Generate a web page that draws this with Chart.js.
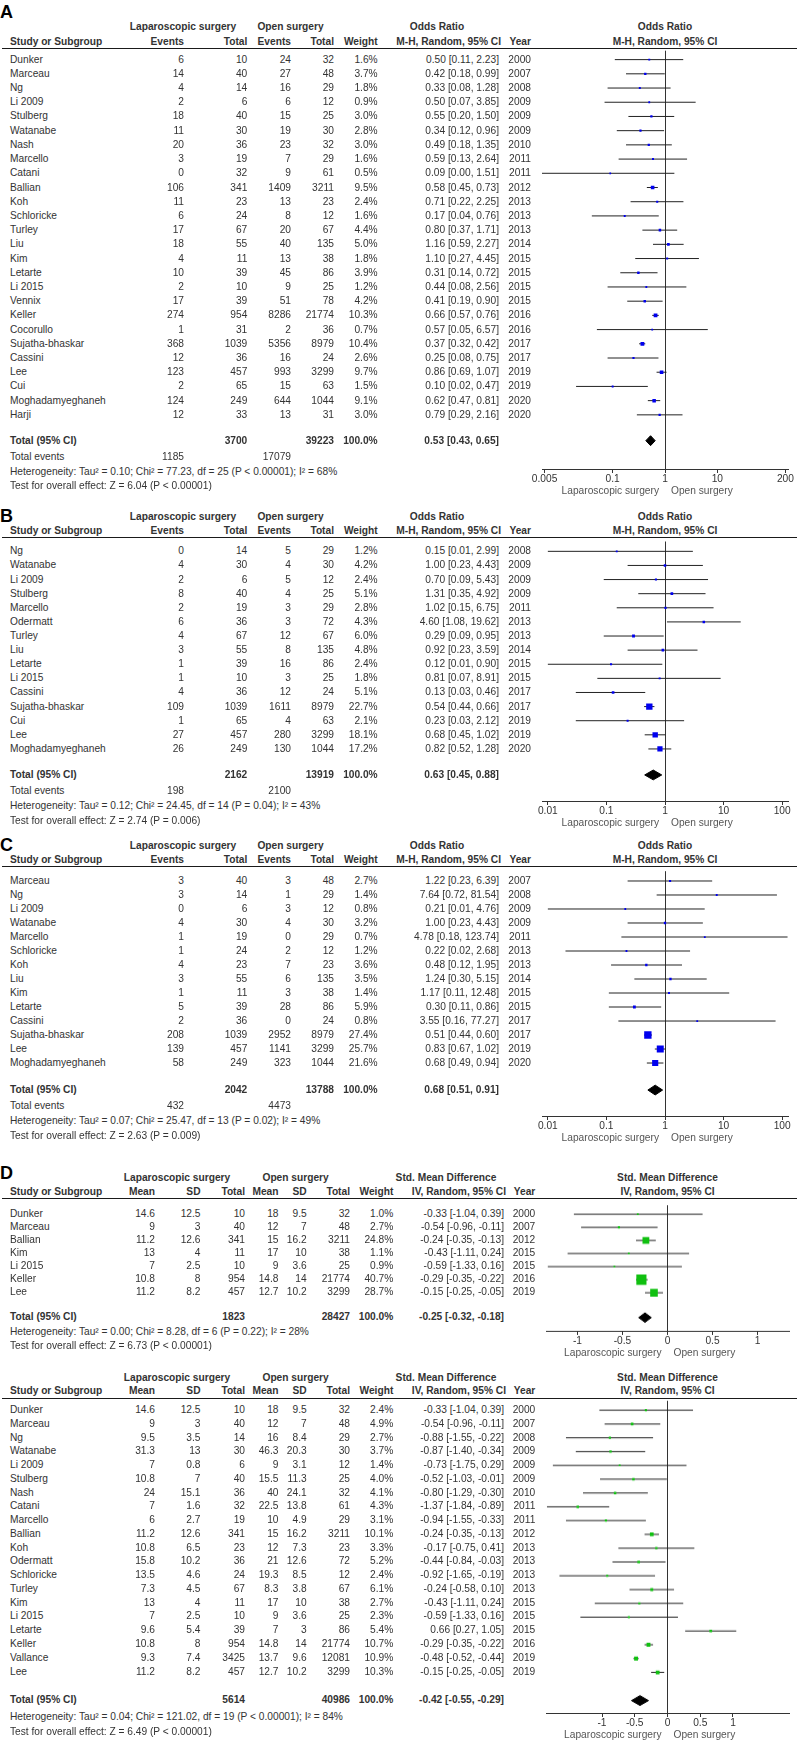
<!DOCTYPE html>
<html>
<head>
<meta charset="utf-8">
<script src="https://cdn.jsdelivr.net/npm/chart.js@4.4.0/dist/chart.umd.min.js"></script>
<style>
  body { margin: 0; background: #fff; }
  #fig { position: relative; width: 800px; height: 1740px; overflow: hidden;
         font-family: "Liberation Sans", Arial, Helvetica, sans-serif; font-size: 10.2px; color: #333; }
  .t { position: absolute; white-space: nowrap; line-height: 12px; }
  .b { font-weight: bold; }
  .r { transform: translateX(-100%); }
  .c { transform: translateX(-50%); }
  .letter { position: absolute; font-weight: bold; font-size: 18px; line-height: 18px; color: #000; }
  .sep { position: absolute; height: 1px; background: #1a1a1a; }
  canvas { position: absolute; }
</style>
</head>
<body>
<div id="fig"></div>
<script>
const FONT = '"Liberation Sans", Arial, Helvetica, sans-serif';

// ---- A: odds ratio, all studies ----
const aStudy = ['Dunker', 'Marceau', 'Ng', 'Li 2009', 'Stulberg', 'Watanabe', 'Nash', 'Marcello', 'Catani', 'Ballian', 'Koh', 'Schloricke', 'Turley', 'Liu', 'Kim', 'Letarte', 'Li 2015', 'Vennix', 'Keller', 'Cocorullo', 'Sujatha-bhaskar', 'Cassini', 'Lee', 'Cui', 'Moghadamyeghaneh', 'Harji'];
const aLapEv = [6, 14, 4, 2, 18, 11, 20, 3, 0, 106, 11, 6, 17, 18, 4, 10, 2, 17, 274, 1, 368, 12, 123, 2, 124, 12];
const aLapN = [10, 40, 14, 6, 40, 30, 36, 19, 32, 341, 23, 24, 67, 55, 11, 39, 10, 39, 954, 31, 1039, 36, 457, 65, 249, 33];
const aOpenEv = [24, 27, 16, 6, 15, 19, 23, 7, 9, 1409, 13, 8, 20, 40, 13, 45, 9, 51, 8286, 2, 5356, 16, 993, 15, 644, 13];
const aOpenN = [32, 48, 29, 12, 25, 30, 32, 29, 61, 3211, 23, 12, 67, 135, 38, 86, 25, 78, 21774, 36, 8979, 24, 3299, 63, 1044, 31];
const aWeight = [1.6, 3.7, 1.8, 0.9, 3.0, 2.8, 3.0, 1.6, 0.5, 9.5, 2.4, 1.6, 4.4, 5.0, 1.8, 3.9, 1.2, 4.2, 10.3, 0.7, 10.4, 2.6, 9.7, 1.5, 9.1, 3.0];
const aOR = [0.50, 0.42, 0.33, 0.50, 0.55, 0.34, 0.49, 0.59, 0.09, 0.58, 0.71, 0.17, 0.80, 1.16, 1.10, 0.31, 0.44, 0.41, 0.66, 0.57, 0.37, 0.25, 0.86, 0.10, 0.62, 0.79];
const aLo = [0.11, 0.18, 0.08, 0.07, 0.20, 0.12, 0.18, 0.13, 0.00, 0.45, 0.22, 0.04, 0.37, 0.59, 0.27, 0.14, 0.08, 0.19, 0.57, 0.05, 0.32, 0.08, 0.69, 0.02, 0.47, 0.29];
const aHi = [2.23, 0.99, 1.28, 3.85, 1.50, 0.96, 1.35, 2.64, 1.51, 0.73, 2.25, 0.76, 1.71, 2.27, 4.45, 0.72, 2.56, 0.90, 0.76, 6.57, 0.42, 0.75, 1.07, 0.47, 0.81, 2.16];
const aYear = [2000, 2007, 2008, 2009, 2009, 2009, 2010, 2011, 2011, 2012, 2013, 2013, 2013, 2014, 2015, 2015, 2015, 2015, 2016, 2016, 2017, 2017, 2019, 2019, 2020, 2020];
const aTotalN = [3700, 39223];
const aTotalEv = [1185, 17079];
const aPooled = [0.53, 0.43, 0.65];
const aHet = 'Heterogeneity: Tau² = 0.10; Chi² = 77.23, df = 25 (P < 0.00001); I² = 68%';
const aTest = 'Test for overall effect: Z = 6.04 (P < 0.00001)';
const aTicks = [0.005, 0.1, 1, 10, 200];
const aTickLabels = ['0.005', '0.1', '1', '10', '200'];

// ---- B ----
const bStudy = ['Ng', 'Watanabe', 'Li 2009', 'Stulberg', 'Marcello', 'Odermatt', 'Turley', 'Liu', 'Letarte', 'Li 2015', 'Cassini', 'Sujatha-bhaskar', 'Cui', 'Lee', 'Moghadamyeghaneh'];
const bLapEv = [0, 4, 2, 8, 2, 6, 4, 3, 1, 1, 4, 109, 1, 27, 26];
const bLapN = [14, 30, 6, 40, 19, 36, 67, 55, 39, 10, 36, 1039, 65, 457, 249];
const bOpenEv = [5, 4, 5, 4, 3, 3, 12, 8, 16, 3, 12, 1611, 4, 280, 130];
const bOpenN = [29, 30, 12, 25, 29, 72, 67, 135, 86, 25, 24, 8979, 63, 3299, 1044];
const bWeight = [1.2, 4.2, 2.4, 5.1, 2.8, 4.3, 6.0, 4.8, 2.4, 1.8, 5.1, 22.7, 2.1, 18.1, 17.2];
const bOR = [0.15, 1.00, 0.70, 1.31, 1.02, 4.60, 0.29, 0.92, 0.12, 0.81, 0.13, 0.54, 0.23, 0.68, 0.82];
const bLo = [0.01, 0.23, 0.09, 0.35, 0.15, 1.08, 0.09, 0.23, 0.01, 0.07, 0.03, 0.44, 0.03, 0.45, 0.52];
const bHi = [2.99, 4.43, 5.43, 4.92, 6.75, 19.62, 0.95, 3.59, 0.90, 8.91, 0.46, 0.66, 2.12, 1.02, 1.28];
const bYear = [2008, 2009, 2009, 2009, 2011, 2013, 2013, 2014, 2015, 2015, 2017, 2017, 2019, 2019, 2020];
const bTotalN = [2162, 13919];
const bTotalEv = [198, 2100];
const bPooled = [0.63, 0.45, 0.88];
const bHet = 'Heterogeneity: Tau² = 0.12; Chi² = 24.45, df = 14 (P = 0.04); I² = 43%';
const bTest = 'Test for overall effect: Z = 2.74 (P = 0.006)';

// ---- C ----
const cStudy = ['Marceau', 'Ng', 'Li 2009', 'Watanabe', 'Marcello', 'Schloricke', 'Koh', 'Liu', 'Kim', 'Letarte', 'Cassini', 'Sujatha-bhaskar', 'Lee', 'Moghadamyeghaneh'];
const cLapEv = [3, 3, 0, 4, 1, 1, 4, 3, 1, 5, 2, 208, 139, 58];
const cLapN = [40, 14, 6, 30, 19, 24, 23, 55, 11, 39, 36, 1039, 457, 249];
const cOpenEv = [3, 1, 3, 4, 0, 2, 7, 6, 3, 28, 0, 2952, 1141, 323];
const cOpenN = [48, 29, 12, 30, 29, 12, 23, 135, 38, 86, 24, 8979, 3299, 1044];
const cWeight = [2.7, 1.4, 0.8, 3.2, 0.7, 1.2, 3.6, 3.5, 1.4, 5.9, 0.8, 27.4, 25.7, 21.6];
const cOR = [1.22, 7.64, 0.21, 1.00, 4.78, 0.22, 0.48, 1.24, 1.17, 0.30, 3.55, 0.51, 0.83, 0.68];
const cLo = [0.23, 0.72, 0.01, 0.23, 0.18, 0.02, 0.12, 0.30, 0.11, 0.11, 0.16, 0.44, 0.67, 0.49];
const cHi = [6.39, 81.54, 4.76, 4.43, 123.74, 2.68, 1.95, 5.15, 12.48, 0.86, 77.27, 0.60, 1.02, 0.94];
const cYear = [2007, 2008, 2009, 2009, 2011, 2013, 2013, 2014, 2015, 2015, 2017, 2017, 2019, 2020];
const cTotalN = [2042, 13788];
const cTotalEv = [432, 4473];
const cPooled = [0.68, 0.51, 0.91];
const cHet = 'Heterogeneity: Tau² = 0.07; Chi² = 25.47, df = 13 (P = 0.02); I² = 49%';
const cTest = 'Test for overall effect: Z = 2.63 (P = 0.009)';
const bcTicks = [0.01, 0.1, 1, 10, 100];
const bcTickLabels = ['0.01', '0.1', '1', '10', '100'];

// ---- D: std. mean difference ----
const dStudy = ['Dunker', 'Marceau', 'Ballian', 'Kim', 'Li 2015', 'Keller', 'Lee'];
const dLapMean = [14.6, 9, 11.2, 13, 7, 10.8, 11.2];
const dLapSD = [12.5, 3, 12.6, 4, 2.5, 8, 8.2];
const dLapN = [10, 40, 341, 11, 10, 954, 457];
const dOpenMean = [18, 12, 15, 17, 9, 14.8, 12.7];
const dOpenSD = [9.5, 7, 16.2, 10, 3.6, 14, 10.2];
const dOpenN = [32, 48, 3211, 38, 25, 21774, 3299];
const dWeight = [1.0, 2.7, 24.8, 1.1, 0.9, 40.7, 28.7];
const dSMD = [-0.33, -0.54, -0.24, -0.43, -0.59, -0.29, -0.15];
const dLo = [-1.04, -0.96, -0.35, -1.11, -1.33, -0.35, -0.25];
const dHi = [0.39, -0.11, -0.13, 0.24, 0.16, -0.22, -0.05];
const dYear = [2000, 2007, 2012, 2015, 2015, 2016, 2019];
const dTotalN = [1823, 28427];
const dPooled = [-0.25, -0.32, -0.18];
const dHet = 'Heterogeneity: Tau² = 0.00; Chi² = 8.28, df = 6 (P = 0.22); I² = 28%';
const dTest = 'Test for overall effect: Z = 6.73 (P < 0.00001)';

// ---- second std. mean difference plot ----
const eStudy = ['Dunker', 'Marceau', 'Ng', 'Watanabe', 'Li 2009', 'Stulberg', 'Nash', 'Catani', 'Marcello', 'Ballian', 'Koh', 'Odermatt', 'Schloricke', 'Turley', 'Kim', 'Li 2015', 'Letarte', 'Keller', 'Vallance', 'Lee'];
const eLapMean = [14.6, 9, 9.5, 31.3, 7, 10.8, 24, 7, 6, 11.2, 10.8, 15.8, 13.5, 7.3, 13, 7, 9.6, 10.8, 9.3, 11.2];
const eLapSD = [12.5, 3, 3.5, 13, 0.8, 7, 15.1, 1.6, 2.7, 12.6, 6.5, 10.2, 4.6, 4.5, 4, 2.5, 5.4, 8, 7.4, 8.2];
const eLapN = [10, 40, 14, 30, 6, 40, 36, 32, 19, 341, 23, 36, 24, 67, 11, 10, 39, 954, 3425, 457];
const eOpenMean = [18, 12, 16, 46.3, 9, 15.5, 40, 22.5, 10, 15, 12, 21, 19.3, 8.3, 17, 9, 7, 14.8, 13.7, 12.7];
const eOpenSD = [9.5, 7, 8.4, 20.3, 3.1, 11.3, 24.1, 13.8, 4.9, 16.2, 7.3, 12.6, 8.5, 3.8, 10, 3.6, 3, 14, 9.6, 10.2];
const eOpenN = [32, 48, 29, 30, 12, 25, 32, 61, 29, 3211, 23, 72, 12, 67, 38, 25, 86, 21774, 12081, 3299];
const eWeight = [2.4, 4.9, 2.7, 3.7, 1.4, 4.0, 4.1, 4.3, 3.1, 10.1, 3.3, 5.2, 2.4, 6.1, 2.7, 2.3, 5.4, 10.7, 10.9, 10.3];
const eSMD = [-0.33, -0.54, -0.88, -0.87, -0.73, -0.52, -0.80, -1.37, -0.94, -0.24, -0.17, -0.44, -0.92, -0.24, -0.43, -0.59, 0.66, -0.29, -0.48, -0.15];
const eLo = [-1.04, -0.96, -1.55, -1.40, -1.75, -1.03, -1.29, -1.84, -1.55, -0.35, -0.75, -0.84, -1.65, -0.58, -1.11, -1.33, 0.27, -0.35, -0.52, -0.25];
const eHi = [0.39, -0.11, -0.22, -0.34, 0.29, -0.01, -0.30, -0.89, -0.33, -0.13, 0.41, -0.03, -0.19, 0.10, 0.24, 0.16, 1.05, -0.22, -0.44, -0.05];
const eYear = [2000, 2007, 2008, 2009, 2009, 2009, 2010, 2011, 2011, 2012, 2013, 2013, 2013, 2013, 2015, 2015, 2015, 2016, 2019, 2019];
const eTotalN = [5614, 40986];
const ePooled = [-0.42, -0.55, -0.29];
const eHet = 'Heterogeneity: Tau² = 0.04; Chi² = 121.02, df = 19 (P < 0.00001); I² = 84%';
const eTest = 'Test for overall effect: Z = 6.49 (P < 0.00001)';
const smdTicks = [-1, -0.5, 0, 0.5, 1];
const smdTickLabels = ['-1', '-0.5', '0', '0.5', '1'];

// layout of the two kinds of tables (right edges of the columns)
const orCols = { name: 10, ev1: 184, n1: 247.3, ev2: 291, n2: 334, w: 377.7, ci: 499, ciHead: 501, year: 531,
                 h1Lap: 183, h1Open: 290.5, h1Eff: 437 };
const smdCols = { name: 10, m1: 155, sd1: 200.5, n1: 245, m2: 278.5, sd2: 306.7, n2: 350, w: 393.3, ci: 504, ciHead: 506, year: 535.3,
                  h1Lap: 177, h1Open: 295.6, h1Eff: 446 };

const fig = document.getElementById('fig');
Chart.defaults.font.family = FONT;

function txt(s, x, cy, align, bold, color) {
  const el = document.createElement('div');
  el.className = 't' + (bold ? ' b' : '') + (align === 'right' ? ' r' : align === 'center' ? ' c' : '');
  el.textContent = s;
  el.style.left = x + 'px';
  el.style.top = (cy - 6) + 'px';
  if (color) el.style.color = color;
  fig.appendChild(el);
}

function letter(s, capTop) {
  const el = document.createElement('div');
  el.className = 'letter';
  el.textContent = s;
  el.style.left = '0px';
  el.style.top = (capTop - 2.5) + 'px';
  fig.appendChild(el);
}

function sepLine(y) {
  const el = document.createElement('div');
  el.className = 'sep';
  el.style.left = '2px';
  el.style.width = '795px';
  el.style.top = y + 'px';
  fig.appendChild(el);
}

const f2 = (v) => v.toFixed(2);
const ciText = (e, l, h) => `${f2(e)} [${f2(l)}, ${f2(h)}]`;

// forest plot on the right: one chart per panel
function forest(p) {
  const padL = 24, padR = 24, axisH = 20;
  const left = p.areaL - padL;
  const w = p.areaR - p.areaL + padL + padR;
  const h = p.axisY - p.sepY + axisH;
  const cv = document.createElement('canvas');
  cv.width = w; cv.height = h;
  cv.style.left = left + 'px'; cv.style.top = p.sepY + 'px';
  cv.style.width = w + 'px'; cv.style.height = h + 'px';
  fig.appendChild(cv);

  const yMin = (p.sepY - p.rowY0) / p.rowStep;
  const yMax = (p.axisY - p.rowY0) / p.rowStep;
  const tRow = (p.totalY - p.rowY0) / p.rowStep;
  const half = 5 / p.rowStep;
  const clip = (v) => Math.min(Math.max(v, p.xMin), p.xMax);

  const ci = [];
  p.est.forEach((v, i) => {
    ci.push({ x: clip(p.lo[i]), y: i }, { x: clip(p.hi[i]), y: i }, { x: v, y: NaN });
  });
  const pts = p.est.map((v, i) => ({ x: v, y: i }));
  const radii = p.weight.map((wt) => (1.6 + 0.21 * wt) / Math.SQRT2);
  const [pe, pl, ph] = p.pooled;
  const diamond = [
    { x: pl, y: tRow }, { x: pe, y: tRow - half }, { x: ph, y: tRow },
    { x: pe, y: tRow + half }, { x: pl, y: tRow },
  ];

  const chart = new Chart(cv, {
    type: 'scatter',
    data: {
      datasets: [
        { data: pts, pointStyle: 'rect', pointRadius: radii, pointHoverRadius: radii,
          backgroundColor: p.color, borderWidth: 0, order: 0 },
        { data: diamond, showLine: true, fill: 'shape', backgroundColor: '#000', borderColor: '#000',
          borderWidth: 1, pointRadius: 0, tension: 0, order: 1 },
        { data: ci, showLine: true, borderColor: '#222', borderWidth: 1, pointRadius: 0,
          spanGaps: false, tension: 0, order: 2 },
      ],
    },
    options: {
      responsive: false,
      animation: false,
      devicePixelRatio: 1,
      layout: { padding: { left: padL, right: padR, top: 0, bottom: 0 } },
      plugins: { legend: { display: false }, tooltip: { enabled: false } },
      scales: {
        x: {
          type: p.log ? 'logarithmic' : 'linear',
          min: p.xMin, max: p.xMax,
          afterBuildTicks: (s) => { s.ticks = p.ticks.map((v) => ({ value: v })); },
          afterFit: (s) => { s.height = axisH; },
          grid: {
            drawOnChartArea: true,
            color: (c) => (c.tick && c.tick.value === p.ref ? '#333' : 'rgba(0,0,0,0)'),
            tickColor: '#333', tickLength: 4, lineWidth: 1,
          },
          border: { display: true, color: '#333', width: 1 },
          ticks: {
            autoSkip: false, maxRotation: 0, padding: 0, color: '#333',
            font: { family: FONT, size: 10.2 },
            callback: (v, i) => p.tickLabels[i],
          },
        },
        y: { type: 'linear', display: false, reverse: true, min: yMin, max: yMax },
      },
    },
  });

  // headers above the plot and captions under the axis
  const mid = (p.areaL + p.areaR) / 2;
  txt(p.effName, mid, p.head1Y, 'center', true);
  txt(p.effMethod, mid, p.head2Y, 'center', true);
  const refPx = chart.scales.x.getPixelForValue(p.ref) + left;
  txt('Laparoscopic surgery', refPx - 6, p.axisY + 22, 'right', false, '#555');
  txt('Open surgery', refPx + 6, p.axisY + 22, 'left', false, '#555');

  return (i) => chart.scales.y.getPixelForValue(i) + p.sepY;
}

function orPanel(p) {
  const c = orCols;
  const rowY = forest(p);
  if (p.letter) letter(p.letter, p.letterTop);
  txt('Laparoscopic surgery', c.h1Lap, p.head1Y, 'center', true);
  txt('Open surgery', c.h1Open, p.head1Y, 'center', true);
  txt('Odds Ratio', c.h1Eff, p.head1Y, 'center', true);
  txt('Study or Subgroup', c.name, p.head2Y, 'left', true);
  txt('Events', c.ev1, p.head2Y, 'right', true);
  txt('Total', c.n1, p.head2Y, 'right', true);
  txt('Events', c.ev2, p.head2Y, 'right', true);
  txt('Total', c.n2, p.head2Y, 'right', true);
  txt('Weight', c.w, p.head2Y, 'right', true);
  txt('M-H, Random, 95% CI', c.ciHead, p.head2Y, 'right', true);
  txt('Year', c.year, p.head2Y, 'right', true);
  sepLine(p.sepY);
  p.study.forEach((s, i) => {
    const y = rowY(i);
    txt(s, c.name, y, 'left');
    txt(String(p.lapEv[i]), c.ev1, y, 'right');
    txt(String(p.lapN[i]), c.n1, y, 'right');
    txt(String(p.openEv[i]), c.ev2, y, 'right');
    txt(String(p.openN[i]), c.n2, y, 'right');
    txt(p.weight[i].toFixed(1) + '%', c.w, y, 'right');
    txt(ciText(p.est[i], p.lo[i], p.hi[i]), c.ci, y, 'right');
    txt(String(p.year[i]), c.year, y, 'right');
  });
  txt('Total (95% CI)', c.name, p.totalY, 'left', true);
  txt(String(p.totalN[0]), c.n1, p.totalY, 'right', true);
  txt(String(p.totalN[1]), c.n2, p.totalY, 'right', true);
  txt('100.0%', c.w, p.totalY, 'right', true);
  txt(ciText(...p.pooled), c.ci, p.totalY, 'right', true);
  txt('Total events', c.name, p.eventsY, 'left');
  txt(String(p.totalEv[0]), c.ev1, p.eventsY, 'right');
  txt(String(p.totalEv[1]), c.ev2, p.eventsY, 'right');
  txt(p.het, c.name, p.hetY, 'left');
  txt(p.test, c.name, p.testY, 'left');
}

function smdPanel(p) {
  const c = smdCols;
  const rowY = forest(p);
  if (p.letter) letter(p.letter, p.letterTop);
  txt('Laparoscopic surgery', c.h1Lap, p.head1Y, 'center', true);
  txt('Open surgery', c.h1Open, p.head1Y, 'center', true);
  txt('Std. Mean Difference', c.h1Eff, p.head1Y, 'center', true);
  txt('Study or Subgroup', c.name, p.head2Y, 'left', true);
  txt('Mean', c.m1, p.head2Y, 'right', true);
  txt('SD', c.sd1, p.head2Y, 'right', true);
  txt('Total', c.n1, p.head2Y, 'right', true);
  txt('Mean', c.m2, p.head2Y, 'right', true);
  txt('SD', c.sd2, p.head2Y, 'right', true);
  txt('Total', c.n2, p.head2Y, 'right', true);
  txt('Weight', c.w, p.head2Y, 'right', true);
  txt('IV, Random, 95% CI', c.ciHead, p.head2Y, 'right', true);
  txt('Year', c.year, p.head2Y, 'right', true);
  sepLine(p.sepY);
  p.study.forEach((s, i) => {
    const y = rowY(i);
    txt(s, c.name, y, 'left');
    txt(String(p.lapMean[i]), c.m1, y, 'right');
    txt(String(p.lapSD[i]), c.sd1, y, 'right');
    txt(String(p.lapN[i]), c.n1, y, 'right');
    txt(String(p.openMean[i]), c.m2, y, 'right');
    txt(String(p.openSD[i]), c.sd2, y, 'right');
    txt(String(p.openN[i]), c.n2, y, 'right');
    txt(p.weight[i].toFixed(1) + '%', c.w, y, 'right');
    txt(ciText(p.est[i], p.lo[i], p.hi[i]), c.ci, y, 'right');
    txt(String(p.year[i]), c.year, y, 'right');
  });
  txt('Total (95% CI)', c.name, p.totalY, 'left', true);
  txt(String(p.totalN[0]), c.n1, p.totalY, 'right', true);
  txt(String(p.totalN[1]), c.n2, p.totalY, 'right', true);
  txt('100.0%', c.w, p.totalY, 'right', true);
  txt(ciText(...p.pooled), c.ci, p.totalY, 'right', true);
  txt(p.het, c.name, p.hetY, 'left');
  txt(p.test, c.name, p.testY, 'left');
}

const orPlot = { log: true, ref: 1, areaL: 542, areaR: 788, color: '#0000ee',
                 effName: 'Odds Ratio', effMethod: 'M-H, Random, 95% CI' };
const smdPlot = { log: false, ref: 0, areaL: 546, areaR: 789, color: '#10c010',
                  effName: 'Std. Mean Difference', effMethod: 'IV, Random, 95% CI' };

orPanel({ ...orPlot, letter: 'A', letterTop: 5,
  head1Y: 27, head2Y: 42, sepY: 48, rowY0: 57, rowStep: 14.3, totalY: 440.5, eventsY: 456.5, hetY: 471.5, testY: 485.5, axisY: 469,
  xMin: Math.pow(10, -2.35), xMax: Math.pow(10, 2.35), ticks: aTicks, tickLabels: aTickLabels,
  study: aStudy, lapEv: aLapEv, lapN: aLapN, openEv: aOpenEv, openN: aOpenN, weight: aWeight,
  est: aOR, lo: aLo, hi: aHi, year: aYear, totalN: aTotalN, totalEv: aTotalEv, pooled: aPooled, het: aHet, test: aTest });

orPanel({ ...orPlot, letter: 'B', letterTop: 509,
  head1Y: 517, head2Y: 531, sepY: 537, rowY0: 547, rowStep: 14.36, totalY: 774.5, eventsY: 790.5, hetY: 805.5, testY: 820.5, axisY: 801,
  xMin: Math.pow(10, -2.1), xMax: Math.pow(10, 2.1), ticks: bcTicks, tickLabels: bcTickLabels,
  study: bStudy, lapEv: bLapEv, lapN: bLapN, openEv: bOpenEv, openN: bOpenN, weight: bWeight,
  est: bOR, lo: bLo, hi: bHi, year: bYear, totalN: bTotalN, totalEv: bTotalEv, pooled: bPooled, het: bHet, test: bTest });

orPanel({ ...orPlot, letter: 'C', letterTop: 838,
  head1Y: 846, head2Y: 860, sepY: 866, rowY0: 876, rowStep: 14.3, totalY: 1089.5, eventsY: 1105.5, hetY: 1120.5, testY: 1135.5, axisY: 1116,
  xMin: Math.pow(10, -2.1), xMax: Math.pow(10, 2.1), ticks: bcTicks, tickLabels: bcTickLabels,
  study: cStudy, lapEv: cLapEv, lapN: cLapN, openEv: cOpenEv, openN: cOpenN, weight: cWeight,
  est: cOR, lo: cLo, hi: cHi, year: cYear, totalN: cTotalN, totalEv: cTotalEv, pooled: cPooled, het: cHet, test: cTest });

smdPanel({ ...smdPlot, letter: 'D', letterTop: 1166,
  head1Y: 1178, head2Y: 1192, sepY: 1198, rowY0: 1207.5, rowStep: 13.8, totalY: 1316.5, hetY: 1331.5, testY: 1345.5, axisY: 1330.5,
  xMin: -1.35, xMax: 1.35, ticks: smdTicks, tickLabels: smdTickLabels,
  study: dStudy, lapMean: dLapMean, lapSD: dLapSD, lapN: dLapN, openMean: dOpenMean, openSD: dOpenSD, openN: dOpenN,
  weight: dWeight, est: dSMD, lo: dLo, hi: dHi, year: dYear, totalN: dTotalN, pooled: dPooled, het: dHet, test: dTest });

smdPanel({ ...smdPlot, letter: null,
  head1Y: 1378, head2Y: 1391, sepY: 1398, rowY0: 1407.5, rowStep: 13.9, totalY: 1700, hetY: 1717, testY: 1731.5, axisY: 1712.5,
  xMin: -1.855, xMax: 1.855, ticks: smdTicks, tickLabels: smdTickLabels,
  study: eStudy, lapMean: eLapMean, lapSD: eLapSD, lapN: eLapN, openMean: eOpenMean, openSD: eOpenSD, openN: eOpenN,
  weight: eWeight, est: eSMD, lo: eLo, hi: eHi, year: eYear, totalN: eTotalN, pooled: ePooled, het: eHet, test: eTest });
</script>
</body>
</html>
